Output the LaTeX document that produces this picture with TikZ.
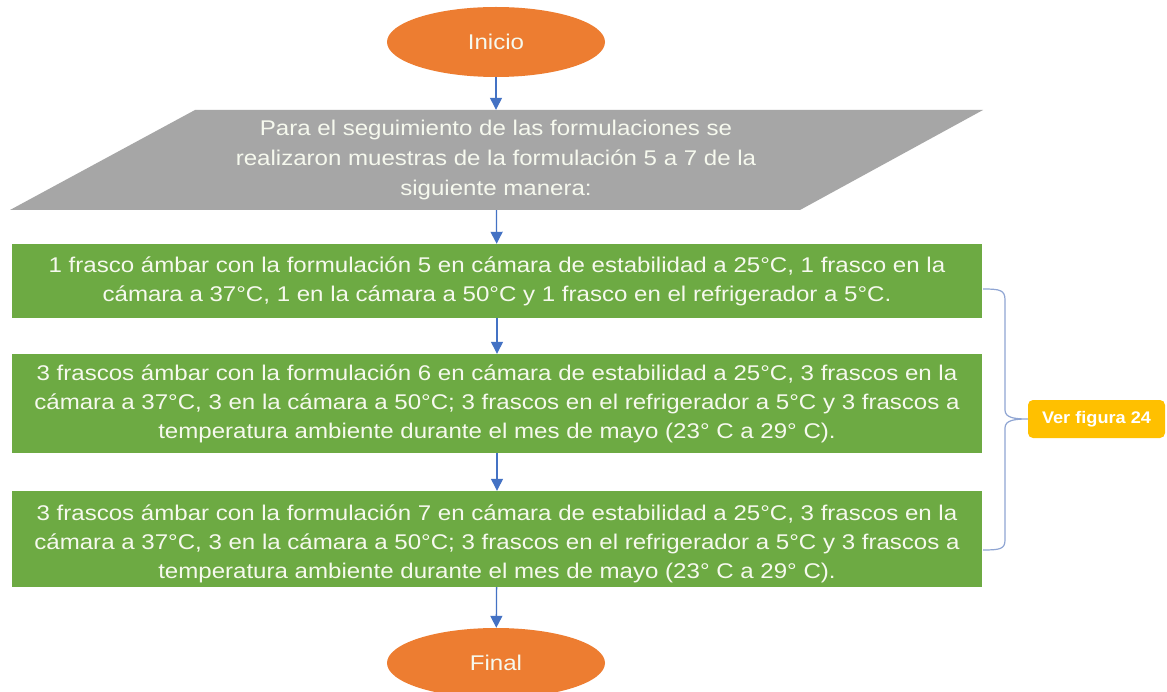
\documentclass[tikz,border=0pt]{standalone}
\usepackage{fontspec}
\setmainfont{Liberation Sans}[FakeStretch=1.13]
\newfontfamily\verfont{Liberation Sans}[FakeStretch=1.08]
\usetikzlibrary{shapes.geometric,arrows.meta}
\definecolor{cgreen}{HTML}{6DAA43}
\definecolor{corange}{HTML}{ED7D31}
\definecolor{cgray}{HTML}{A6A6A6}
\definecolor{cyellow}{HTML}{FFC000}
\definecolor{cblue}{HTML}{4472C4}
\definecolor{cbrace}{HTML}{8FA5D3}
\definecolor{ctext}{HTML}{F6F9EE}
\tikzset{
  term/.style={ellipse, fill=corange, text=ctext, minimum width=218pt, minimum height=70pt, inner sep=0pt, font=\fontsize{21.3}{29}\selectfont},
  greenbox/.style={rectangle, fill=cgreen, text=ctext, minimum width=970pt, inner sep=0pt, align=center, font=\fontsize{21.3}{29}\selectfont},
  partext/.style={text=ctext, minimum height=100pt, inner sep=0pt, align=center, font=\fontsize{21.3}{30}\selectfont},
  flow/.style={draw=cblue, line width=1.3pt, -{Triangle[width=12pt,length=12pt]}},
  verbox/.style={rectangle, rounded corners=5pt, fill=cyellow, text=white, minimum width=137pt, minimum height=38pt, inner sep=0pt, font=\verfont\bfseries\fontsize{16.8}{20}\selectfont},
}
\begin{document}
\begin{tikzpicture}[x=1pt,y=-1pt]
\useasboundingbox (0,0) rectangle (1167,692);
\clip (0,0) rectangle (1167,692);
\fill[white] (0,0) rectangle (1167,692);
\node[term] (ini) at (496,42) {Inicio};
\fill[cgray] (195,110) -- (983,110) -- (800,210) -- (10,210) -- cycle;
\node[partext] (par) at (496,160) {Para el seguimiento de las formulaciones se\\realizaron muestras de la formulación 5 a 7 de la\\siguiente manera:};
\node[greenbox, minimum height=74pt] (b1) at (497,281) {1 frasco ámbar con la formulación 5 en cámara de estabilidad a 25°C, 1 frasco en la\\cámara a 37°C, 1 en la cámara a 50°C y 1 frasco en el refrigerador a 5°C.};
\node[greenbox, minimum height=99pt] (b2) at (497,403.5) {3 frascos ámbar con la formulación 6 en cámara de estabilidad a 25°C, 3 frascos en la\\cámara a 37°C, 3 en la cámara a 50°C; 3 frascos en el refrigerador a 5°C y 3 frascos a\\temperatura ambiente durante el mes de mayo (23° C a 29° C).};
\node[greenbox, minimum height=96pt] (b3) at (497,539) {};
\node[text=ctext, align=center, inner sep=0pt, font=\fontsize{21.3}{29}\selectfont] (b3t) at (497,543.5) {3 frascos ámbar con la formulación 7 en cámara de estabilidad a 25°C, 3 frascos en la\\cámara a 37°C, 3 en la cámara a 50°C; 3 frascos en el refrigerador a 5°C y 3 frascos a\\temperatura ambiente durante el mes de mayo (23° C a 29° C).};
\node[term] (fin) at (496,663) {Final};
\node[verbox] (ver) at (1096.5,419) {Ver figura 24};
\draw[flow] (ini) -- (par);
\draw[flow] (par) -- (b1);
\draw[flow] (b1) -- (b2);
\draw[flow] (b2) -- (b3);
\draw[flow] (b3) -- (fin);
\coordinate (bt) at (983,289);
\coordinate (bb) at (983,550);
\draw[cbrace, line width=1.2pt] (bt) .. controls (1000,289) and (1005,290) .. (1005,300)
  -- (1005,410) .. controls (1005,418) and (1015,419) .. (ver.west)
  (ver.west) .. controls (1015,419) and (1005,420) .. (1005,428)
  -- (1005,540) .. controls (1005,549) and (1000,550) .. (bb);
\end{tikzpicture}
\end{document}
